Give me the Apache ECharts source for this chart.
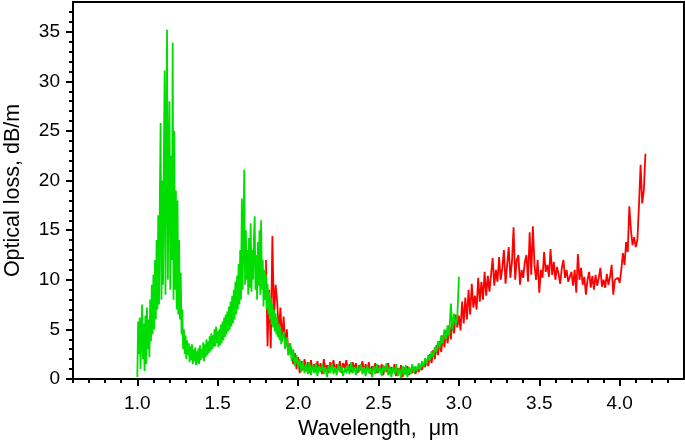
<!DOCTYPE html>
<html>
<head>
<meta charset="utf-8">
<script src="https://cdn.jsdelivr.net/npm/echarts@6/dist/echarts.min.js"></script>
<style>
html,body{margin:0;padding:0;background:#fff;}
#chart{width:685px;height:441px;}
</style>
</head>
<body>
<div id="chart"></div>
<script>
// Green trace, part A: 1.000 .. 1.895 µm, sampled every 0.005 µm (dB/m)
const greenStartA = 1.000, greenStepA = 0.005;
const greenLossA = [
  0.2, 5.8, 2.5, 6.2, 1.0, 4.8, 7.5, 2.0, 5.6, 0.8,
  6.4, 1.5, 7.2, 3.0, 6.0, 2.2, 8.0, 3.8, 9.5, 4.5,
  10.5, 5.0, 12.0, 6.0, 14.0, 7.0, 16.5, 7.5, 18.0, 25.8,
  8.0, 20.0, 9.5, 22.0, 31.1, 8.5, 24.0, 35.2, 10.0, 21.0,
  28.0, 9.0, 22.5, 12.0, 33.9, 8.0, 25.0, 9.0, 19.0, 7.0,
  18.0, 6.5, 14.0, 6.0, 10.7, 4.5, 7.0, 3.0, 5.0, 2.5,
  4.4, 2.0, 3.9, 2.4, 3.6, 1.7, 3.3, 1.9, 3.5, 1.5,
  3.0, 1.8, 3.2, 1.4, 2.8, 1.6, 3.1, 1.5, 3.4, 1.9,
  3.0, 2.1, 3.7, 1.8, 3.5, 2.2, 4.0, 2.4, 3.8, 2.6,
  4.3, 2.8, 4.6, 3.0, 4.4, 3.2, 5.0, 3.3, 5.3, 3.6,
  4.8, 3.2, 5.0, 3.4, 5.5, 3.6, 5.8, 3.9, 6.2, 4.2,
  6.5, 4.5, 6.8, 4.8, 7.3, 5.0, 7.8, 5.3, 8.4, 5.6,
  9.0, 6.0, 9.8, 6.5, 10.4, 7.0, 11.6, 7.5, 13.0, 8.0,
  18.2, 9.0, 14.5, 21.1, 9.5, 15.0, 10.0, 13.0, 8.5, 14.2,
  9.2, 15.7, 8.8, 13.0, 10.0, 14.0, 16.4, 9.0, 12.5, 8.0,
  13.8, 9.4, 15.0, 8.5, 16.0, 9.0, 12.0, 7.3, 11.0, 8.0,
  10.5, 7.0, 9.6, 6.5, 8.8, 6.0, 8.2, 5.5, 7.6, 5.2,
  7.0, 4.8, 6.6, 4.5, 6.2, 4.2, 5.6, 3.9, 5.2, 3.5
];

// Green trace, part B: 1.90 .. 3.00 µm, sampled every 0.01 µm (dB/m)
const greenStartB = 1.90, greenStepB = 0.01;
const greenLossB = [
  3.6, 4.8, 3.0, 4.2, 2.4, 3.6, 1.8, 3.0, 1.3, 2.4,
  1.2, 2.0, 0.7, 1.8, 0.6, 1.5, 0.5, 1.7, 0.4, 1.4,
  0.6, 1.6, 0.3, 1.3, 0.7, 1.5, 0.5, 1.2, 0.2, 1.4,
  0.6, 1.6, 0.5, 1.2, 0.4, 1.5, 0.7, 1.3, 0.3, 1.1,
  0.6, 1.4, 0.5, 1.7, 0.6, 1.2, 0.4, 1.3, 0.7, 1.5,
  0.5, 1.2, 0.3, 1.4, 0.6, 1.1, 0.2, 1.3, 0.5, 1.5,
  0.6, 1.2, 0.3, 1.4, 0.7, 1.6, 0.4, 1.3, 0.2, 1.2,
  0.5, 1.5, 0.3, 1.1, 0.1, 1.3, 0.4, 1.4, 0.2, 1.2,
  0.5, 1.5, 0.6, 1.3, 0.8, 1.6, 0.9, 1.8, 1.2, 2.1,
  1.5, 2.4, 1.9, 2.8, 2.2, 3.2, 2.7, 3.8, 3.1, 4.4,
  3.6, 5.0, 4.0, 5.4, 4.3, 7.6, 5.0, 6.6, 5.4, 6.2,
  10.3
];

// Red trace: 1.80 .. 4.16 µm, sampled every 0.01 µm (dB/m)
const redStart = 1.80, redStep = 0.01;
const redLoss = [
  12.0, 3.3, 9.0, 3.1, 14.4, 6.0, 9.5, 7.8, 4.5, 7.2,
  3.8, 6.3, 3.2, 5.0, 2.4, 3.6, 3.8, 1.5, 2.6, 1.0,
  2.2, 0.6, 1.8, 0.9, 2.0, 0.8, 1.7, 0.6, 1.9, 0.9,
  1.5, 0.7, 1.8, 0.8, 1.6, 0.5, 2.0, 0.9, 1.4, 0.6,
  1.7, 1.0, 1.9, 0.7, 1.5, 0.9, 1.8, 0.6, 1.6, 1.1,
  1.9, 0.8, 1.5, 0.7, 1.7, 1.0, 1.6, 0.6, 1.4, 0.9,
  1.8, 0.7, 1.5, 0.8, 1.7, 0.5, 1.3, 0.9, 1.6, 0.6,
  1.4, 0.8, 1.5, 0.4, 1.3, 0.7, 1.6, 0.5, 1.2, 0.8,
  1.5, 0.3, 1.1, 0.6, 1.4, 0.2, 1.2, 0.5, 1.3, 0.4,
  1.0, 0.6, 1.2, 0.5, 1.1, 0.7, 1.3, 0.9, 1.5, 1.2,
  1.9, 1.3, 2.5, 1.6, 2.9, 2.0, 3.4, 2.4, 3.8, 2.7,
  4.4, 3.2, 4.9, 3.6, 5.4, 4.0, 6.0, 4.6, 6.5, 5.2,
  6.4, 4.9, 7.8, 5.6, 8.2, 6.0, 9.0, 6.5, 9.6, 7.2,
  8.4, 7.0, 10.2, 7.8, 9.8, 8.0, 10.8, 8.4, 10.4, 8.8,
  10.5, 12.2, 9.4, 11.0, 9.8, 12.3, 10.0, 11.2, 13.0, 9.6,
  11.5, 13.3, 10.2, 11.8, 15.3, 10.0, 12.0, 12.5, 9.5, 11.0,
  10.2, 11.8, 12.5, 9.8, 14.8, 10.5, 15.4, 11.5, 10.0, 12.0,
  8.7, 11.0, 10.2, 12.8, 10.8, 11.5, 10.3, 13.1, 10.5, 11.8,
  10.0, 11.3, 10.6, 9.6, 11.2, 12.0, 10.2, 11.0, 9.8, 10.0,
  10.8, 9.4, 11.0, 8.7, 12.6, 10.0, 11.2, 9.5, 10.3, 8.5,
  10.0, 10.8, 9.2, 10.4, 9.0, 10.5, 9.4, 10.2, 11.2, 9.3,
  10.0, 9.2, 10.6, 9.5, 10.3, 11.5, 8.5, 10.0, 9.8, 10.2,
  9.7, 11.0, 12.7, 11.5, 13.8, 12.8, 17.4, 15.0, 13.5, 14.3,
  13.3, 14.0, 17.5, 21.6, 17.7, 19.0, 22.7
];

// Tick values
const xMajorTicks = [1.0, 1.5, 2.0, 2.5, 3.0, 3.5, 4.0];
const xMinorTicks = [0.6, 0.7, 0.8, 0.9, 1.1, 1.2, 1.3, 1.4, 1.6, 1.7, 1.8, 1.9, 2.1, 2.2, 2.3, 2.4, 2.6, 2.7, 2.8, 2.9, 3.1, 3.2, 3.3, 3.4, 3.6, 3.7, 3.8, 3.9, 4.1, 4.2, 4.3];
const yMajorTicks = [0, 5, 10, 15, 20, 25, 30, 35];
const yMinorTicks = [1, 2, 3, 4, 6, 7, 8, 9, 11, 12, 13, 14, 16, 17, 18, 19, 21, 22, 23, 24, 26, 27, 28, 29, 31, 32, 33, 34, 36, 37];

function pairs(start, step, vals) {
  return vals.map((v, i) => [+(start + i * step).toFixed(4), v]);
}

const greenData = pairs(greenStartA, greenStepA, greenLossA).concat(pairs(greenStartB, greenStepB, greenLossB));
const redData = pairs(redStart, redStep, redLoss);

const FONT = 'Liberation Sans, Arial, sans-serif';
const chart = echarts.init(document.getElementById('chart'), null, {renderer: 'canvas'});
chart.setOption({
  animation: false,
  backgroundColor: '#ffffff',
  grid: {left: 73, right: 1, top: 2, bottom: 62, outerBoundsMode: 'none', containLabel: false,
    show: true, borderColor: '#000', borderWidth: 2, backgroundColor: 'transparent'},
  xAxis: [{
    type: 'value', min: 0.6, max: 4.4,
    name: 'Wavelength,  \u03bcm', nameLocation: 'middle', nameGap: 35,
    nameTextStyle: {fontFamily: FONT, fontSize: 21.5, color: '#000'},
    axisLine: {show: true, lineStyle: {color: '#000', width: 2}},
    axisTick: {show: true, inside: false, length: 7, lineStyle: {color: '#000', width: 2}, customValues: xMajorTicks},
    axisLabel: {show: true, customValues: xMajorTicks, margin: 15, fontFamily: FONT, fontSize: 19, color: '#000',
      formatter: v => v.toFixed(1)},
    splitLine: {show: false}
  }, {
    type: 'value', min: 0.6, max: 4.4, position: 'bottom', gridIndex: 0,
    axisLine: {show: false},
    axisTick: {show: true, length: 4, lineStyle: {color: '#000', width: 2}, customValues: xMinorTicks},
    axisLabel: {show: false},
    splitLine: {show: false}
  }],
  yAxis: [{
    type: 'value', min: 0, max: 38,
    name: 'Optical loss, dB/m', nameLocation: 'middle', nameGap: 49,
    nameTextStyle: {fontFamily: FONT, fontSize: 21.5, color: '#000'},
    axisLine: {show: true, lineStyle: {color: '#000', width: 2}},
    axisTick: {show: true, length: 7, lineStyle: {color: '#000', width: 2}, customValues: yMajorTicks},
    axisLabel: {show: true, customValues: yMajorTicks, margin: 13, fontFamily: FONT, fontSize: 19, color: '#000'},
    splitLine: {show: false}
  }, {
    type: 'value', min: 0, max: 38, position: 'left', gridIndex: 0,
    axisLine: {show: false},
    axisTick: {show: true, length: 4, lineStyle: {color: '#000', width: 2}, customValues: yMinorTicks},
    axisLabel: {show: false},
    splitLine: {show: false}
  }],
  series: [{
    type: 'line', name: 'red', xAxisIndex: 0, yAxisIndex: 0,
    data: redData,
    showSymbol: false, symbol: 'none',
    lineStyle: {color: '#ff0000', width: 1.8}, z: 2
  }, {
    type: 'line', name: 'green', xAxisIndex: 0, yAxisIndex: 0,
    data: greenData,
    showSymbol: false, symbol: 'none',
    lineStyle: {color: '#00dd00', width: 1.8}, z: 3
  }]
});
</script>
</body>
</html>
